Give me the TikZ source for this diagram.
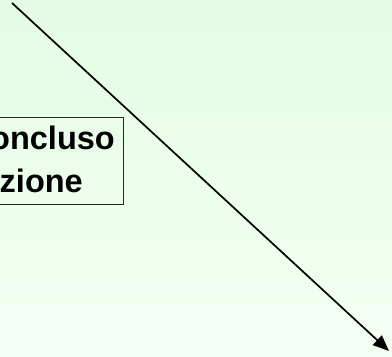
\documentclass[tikz,border=0pt]{standalone}
\usepackage{fontspec}
\setmainfont{Liberation Sans}
\usetikzlibrary{arrows.meta}
\definecolor{bgtop}{HTML}{E3FCE3}
\definecolor{bgbot}{HTML}{F4FFF4}
\tikzset{
  lbl/.style={font=\bfseries\fontsize{32.5}{34}\selectfont, inner sep=0pt, anchor=base east, text=black},
  boxline/.style={draw=black!85, line width=1pt},
  arrowline/.style={line width=1.7pt, -{Triangle[length=16pt,width=13pt]}}
}
\begin{document}
\begin{tikzpicture}[x=1pt,y=1pt]
  \useasboundingbox (0,0) rectangle (392,357);
  \clip (0,0) rectangle (392,357);
  \shade[top color=bgtop, bottom color=bgbot] (0,0) rectangle (392,357);
  \draw[boxline] (-30,239) rectangle (123,152);
  \node[lbl] (l1) at (115,207.5) {oncluso};
  \node[lbl] (l2) at (83,164) {azione};
  \coordinate (s) at (12,354);
  \coordinate (e) at (389,6);
  \draw[arrowline] (s) -- (e);
\end{tikzpicture}
\end{document}
